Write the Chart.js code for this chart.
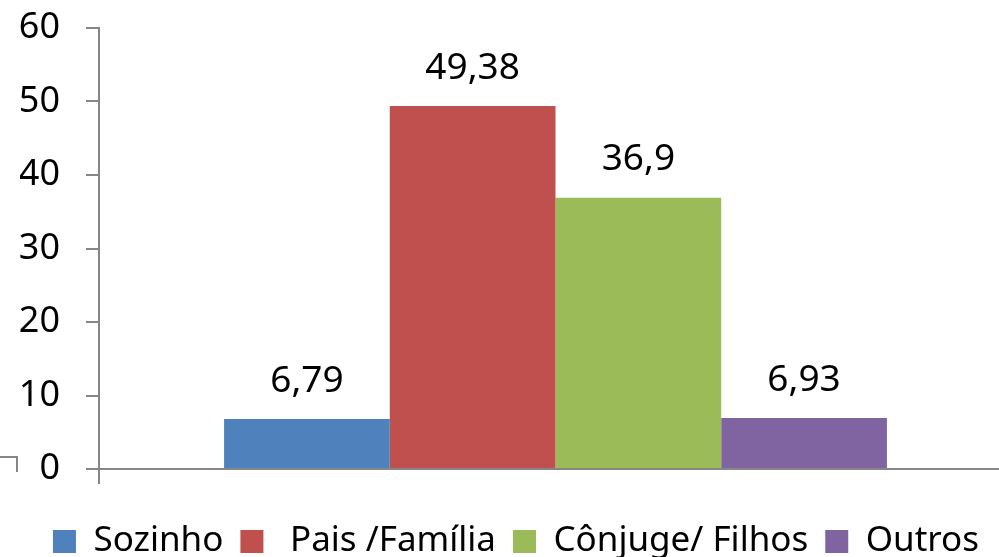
<!DOCTYPE html>
<html>
<head>
<meta charset="utf-8">
<script src="https://cdn.jsdelivr.net/npm/chart.js@4.4.0/dist/chart.umd.min.js"></script>
<style>
  html, body { margin: 0; padding: 0; background: #fff; overflow: hidden; }
  #wrap { position: relative; width: 1012px; height: 557px; }
</style>
</head>
<body>
<div id="wrap"><canvas id="chart"></canvas></div>
<script>
// data
var categories = [''];
var seriesNames = ['Sozinho', ' Pais /Família', 'Cônjuge/ Filhos', 'Outros'];
var seriesValues = [6.79, 49.38, 36.9, 6.93];
var seriesColors = ['#4F81BD', '#C0504D', '#9BBB59', '#8064A2'];
var yTicks = [0, 10, 20, 30, 40, 50, 60];

var fontFamily = "'Noto Sans', sans-serif";
var axisGray = '#868686';

//value labels above each bar, comma decimals
var barLabels = {
  id: 'barLabels',
  afterDatasetsDraw: function(chart) {
    var ctx = chart.ctx;
    ctx.save();
    ctx.fillStyle = '#000';
    ctx.font = '37px ' + fontFamily;
    ctx.textAlign = 'center';
    ctx.textBaseline = 'middle';
    chart.data.datasets.forEach(function(ds, i) {
      var meta = chart.getDatasetMeta(i);
      meta.data.forEach(function(bar, j) {
        var txt = String(ds.data[j]).replace('.', ',');
        ctx.fillText(txt, bar.x, bar.y - 38);
      });
    });
    ctx.restore();
  }
};

// little corner mark at the bottom left of the original
var cornerMark = {
  id: 'cornerMark',
  afterDraw: function(chart) {
    var ctx = chart.ctx;
    ctx.save();
    ctx.strokeStyle = axisGray;
    ctx.lineWidth = 2;
    ctx.beginPath();
    ctx.moveTo(0, 457);
    ctx.lineTo(17, 457);
    ctx.lineTo(17, 472);
    ctx.stroke();
    ctx.restore();
  }
};

var datasets = [];
for (var i = 0; i < seriesNames.length; i++) {
  datasets.push({
    label: seriesNames[i],
    data: [seriesValues[i]],
    backgroundColor: seriesColors[i],
    borderWidth: 0,
    categoryPercentage: 0.726,
    barPercentage: 1
  });
}

var ctx = document.getElementById('chart');
var chart = new Chart(ctx, {
  type: 'bar',
  data: { labels: categories, datasets: datasets },
  plugins: [barLabels, cornerMark],
  options: {
    responsive: true,
    maintainAspectRatio: false,
    animation: false,
    layout: { padding: { top: 28, left: 20, right: 0, bottom: -12 } },
    plugins: {
      tooltip: { enabled: false },
      legend: {
        position: 'bottom',
        labels: {
          font: { family: fontFamily, size: 35 },
          color: '#000',
          boxWidth: 23,
          boxHeight: 23,
          padding: 17
        }
      }
    },
    scales: {
      x: {
        afterFit: function(axis) { axis.height = 38; },
        grid: {
          display: true,
          drawOnChartArea: false,
          drawTicks: true,
          tickLength: 15,
          color: axisGray,
          lineWidth: 2,
          offset: true
        },
        border: { color: axisGray, width: 2 },
        ticks: { display: false }
      },
      y: {
        min: 0,
        max: 60,
        afterBuildTicks: function(axis) {
          axis.ticks = yTicks.map(function(v) { return { value: v }; });
        },
        afterFit: function(axis) {
          axis.width = 79;
          axis.paddingTop = 0;
          axis.paddingBottom = 0;
        },
        grid: {
          drawOnChartArea: false,
          drawTicks: true,
          tickLength: 13,
          color: axisGray,
          lineWidth: 2
        },
        border: { color: axisGray, width: 2 },
        ticks: {
          font: { family: fontFamily, size: 36 },
          color: '#000',
          padding: 26
        }
      }
    }
  }
});
</script>
</body>
</html>
